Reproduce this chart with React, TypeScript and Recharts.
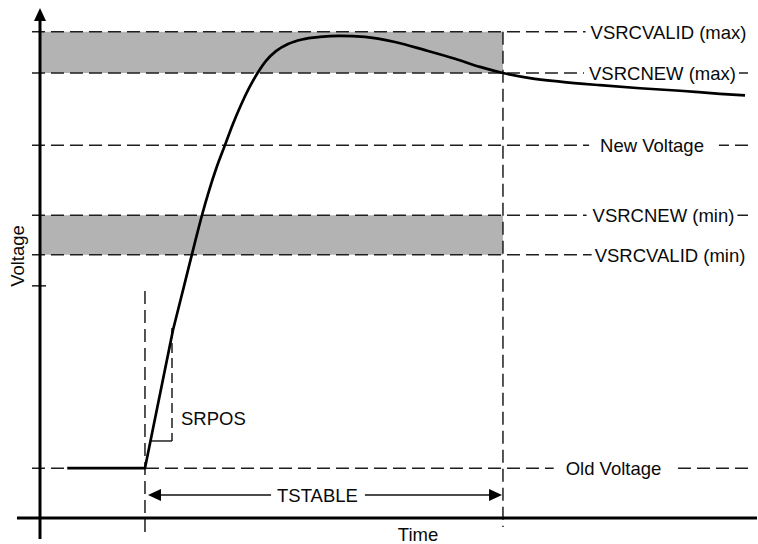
import React, { useLayoutEffect, useRef, useState } from 'react';
import {
  ComposedChart,
  Line,
  XAxis,
  YAxis,
  ReferenceLine,
  ReferenceArea,
  ReferenceDot,
} from 'recharts';

// ---------- data (arbitrary units: time 0..100, voltage 0..100) ----------
const levelNames = [
  'VSRCVALID (max)',
  'VSRCNEW (max)',
  'New Voltage',
  'VSRCNEW (min)',
  'VSRCVALID (min)',
  'Old Voltage',
];
const levelValues = [95.7, 87.6, 73.4, 59.6, 51.8, 9.8];
const extraTickLevel = 45.7;

const tStart = 14.64; // start of the ramp
const tStable = 64.57; // end of TSTABLE window

// initial flat part + slew-rate ramp
const rampTime = [3.8, 14.64, 18.55];
const rampVolt = [9.8, 9.8, 37.0];

// settling curve
const settleTime = [
  18.55, 19.67, 20.64, 21.62, 22.59, 23.57, 24.55, 25.8, 26.92, 28.03, 29.15,
  30.26, 31.52, 32.91, 34.59, 36.54, 39.05, 41.84, 45.33, 49.51, 53.7, 57.88,
  61.37, 64.57, 68.34, 72.52, 78.1, 83.68, 89.26, 94.84, 98.33,
];
const settleVolt = [
  37.0, 43.3, 48.8, 54.3, 59.6, 64.4, 68.7, 73.4, 77.6, 81.3, 84.6, 87.4, 90.0,
  91.9, 93.3, 94.2, 94.7, 94.9, 94.7, 93.7, 92.1, 90.4, 88.8, 87.6, 86.6, 85.9,
  85.2, 84.6, 84.1, 83.5, 83.2,
];

const rampData = rampTime.map((t, i) => ({ t, v: rampVolt[i] }));
const settleData = settleTime.map((t, i) => ({ t, v: settleVolt[i] }));

// ---------- layout (label anchors / extents in chart units) ----------
const layout = {
  lineLeft: -1.12,
  lineRight: 99.3,
  tickRight: 0.84,
  xAxisLeft: -3.21,
  xAxisRight: 100,
  yAxisBottom: -4.13,
  yAxisTop: 100.39,
  startLineTop: 44.69,
  startLineBottom: -2.76,
  stableLineBottom: -1.77,
  labelTimes: [87.66, 86.82, 85.36, 86.96, 87.87, 79.99],
  labelPads: [
    [5, 3],
    [5, 3],
    [11, 15],
    [6, 3],
    [3, 3],
    [12, 12],
  ],
  arrowV: 4.53,
  arrowLeft: 15.06,
  arrowRight: 64.44,
  tstableT: 38.7,
  srTime: 18.41,
  srTop: 37.4,
  srBottom: 15.16,
  srLeft: 15.48,
  srLabelT: 19.67,
  srLabelV: 19.59,
};

const W = 758;
const H = 544;
const FONT = '"Liberation Sans", Arial, Helvetica, sans-serif';
const FS = 18.5;
const DASH = '13 6';
const DASH_COLOR = '#1e1e1e';
const DASH_W = 1.5;
const GRAY = '#b3b3b3';

function BoxedText(props: any) {
  const { cx, cy, text, anchor = 'middle', padL = 4, padR = 4 } = props;
  const ref = useRef<SVGTextElement>(null);
  const [bb, setBb] = useState<{ x: number; w: number } | null>(null);
  useLayoutEffect(() => {
    if (ref.current) {
      const b = ref.current.getBBox();
      if (!bb || Math.abs(b.x - bb.x) > 0.1 || Math.abs(b.width - bb.w) > 0.1) {
        setBb({ x: b.x, w: b.width });
      }
    }
  });
  return (
    <g>
      {bb && (
        <rect
          x={bb.x - padL}
          y={cy - 9}
          width={bb.w + padL + padR}
          height={18}
          fill="#ffffff"
        />
      )}
      <text
        ref={ref}
        x={cx}
        y={cy}
        dy={FS * 0.36}
        textAnchor={anchor}
        fontFamily={FONT}
        fontSize={FS}
        fill="#0a0a0a"
      >
        {text}
      </text>
    </g>
  );
}

const YAxisArrow = (p: any) => {
  const top = Math.min(p.y1, p.y2);
  const bot = Math.max(p.y1, p.y2);
  const x = p.x1;
  return (
    <g>
      <line x1={x} x2={x} y1={bot} y2={top + 10} stroke="#000" strokeWidth={3} />
      <polygon points={`${x},${top} ${x - 6},${top + 13} ${x + 6},${top + 13}`} fill="#000" />
    </g>
  );
};

const PlainAxis = (p: any) => (
  <line x1={p.x1} x2={p.x2} y1={p.y1} y2={p.y2} stroke="#000" strokeWidth={3} />
);

const DoubleArrow = (p: any) => {
  const l = Math.min(p.x1, p.x2);
  const r = Math.max(p.x1, p.x2);
  const y = p.y1;
  return (
    <g>
      <line x1={l + 10} x2={r - 10} y1={y} y2={y} stroke="#111" strokeWidth={1.6} />
      <polygon points={`${l},${y} ${l + 13},${y - 6} ${l + 13},${y + 6}`} fill="#000" />
      <polygon points={`${r},${y} ${r - 13},${y - 6} ${r - 13},${y + 6}`} fill="#000" />
    </g>
  );
};

const TimeLabel = (props: any) => {
  const vb = props.viewBox;
  return (
    <text
      x={vb.x + vb.width / 2 + 19.5}
      y={vb.y + vb.height - 3}
      textAnchor="middle"
      fontFamily={FONT}
      fontSize={FS}
      fill="#0a0a0a"
    >
      Time
    </text>
  );
};

const VoltageLabel = (props: any) => {
  const vb = props.viewBox;
  const x = vb.x + 24;
  const y = vb.y + vb.height / 2 - 8;
  return (
    <text
      transform={`translate(${x},${y}) rotate(-90)`}
      textAnchor="middle"
      fontFamily={FONT}
      fontSize={FS}
      fill="#0a0a0a"
    >
      Voltage
    </text>
  );
};

const dashed = {
  stroke: DASH_COLOR,
  strokeWidth: DASH_W,
  strokeDasharray: DASH,
  ifOverflow: 'visible' as const,
};

export default function App() {
  return (
    <div style={{ position: 'absolute', left: 0, top: 0, width: W, height: H, background: '#fff' }}>
      <ComposedChart width={W} height={H} margin={{ top: 10, right: 1, bottom: 0, left: 0 }}>
        <XAxis
          type="number"
          dataKey="t"
          domain={[0, 100]}
          allowDataOverflow
          tick={false}
          tickLine={false}
          axisLine={false}
          height={26}
          label={TimeLabel}
        />
        <YAxis
          type="number"
          dataKey="v"
          domain={[0, 100]}
          allowDataOverflow
          tick={false}
          tickLine={false}
          axisLine={false}
          width={40}
          label={VoltageLabel}
        />

        {/* tolerance bands */}
        <ReferenceArea
          x1={0}
          x2={tStable}
          y1={levelValues[1]}
          y2={levelValues[0]}
          fill={GRAY}
          fillOpacity={1}
          stroke="none"
          ifOverflow="visible"
        />
        <ReferenceArea
          x1={0}
          x2={tStable}
          y1={levelValues[4]}
          y2={levelValues[3]}
          fill={GRAY}
          fillOpacity={1}
          stroke="none"
          ifOverflow="visible"
        />

        {/* horizontal dashed level lines */}
        {levelValues.map((v, i) => (
          <ReferenceLine
            key={'lvl' + i}
            segment={[
              { x: layout.lineLeft, y: v },
              { x: layout.lineRight, y: v },
            ]}
            {...dashed}
          />
        ))}
        <ReferenceLine
          segment={[
            { x: layout.lineLeft, y: extraTickLevel },
            { x: layout.tickRight, y: extraTickLevel },
          ]}
          stroke={DASH_COLOR}
          strokeWidth={DASH_W}
          ifOverflow="visible"
        />

        {/* vertical dashed markers */}
        <ReferenceLine
          segment={[
            { x: tStart, y: layout.startLineTop },
            { x: tStart, y: layout.startLineBottom },
          ]}
          {...dashed}
        />
        <ReferenceLine
          segment={[
            { x: tStable, y: levelValues[0] },
            { x: tStable, y: layout.stableLineBottom },
          ]}
          {...dashed}
        />

        {/* SRPOS construction */}
        <ReferenceLine
          segment={[
            { x: layout.srTime, y: layout.srTop },
            { x: layout.srTime, y: layout.srBottom },
          ]}
          {...dashed}
          strokeDasharray="10 5"
        />
        <ReferenceLine
          segment={[
            { x: layout.srLeft, y: layout.srBottom },
            { x: layout.srTime, y: layout.srBottom },
          ]}
          stroke="#111"
          strokeWidth={1.4}
          ifOverflow="visible"
        />

        {/* axes */}
        <ReferenceLine
          segment={[
            { x: layout.xAxisLeft, y: 0 },
            { x: layout.xAxisRight, y: 0 },
          ]}
          shape={PlainAxis}
          ifOverflow="visible"
        />
        <ReferenceLine
          segment={[
            { x: 0, y: layout.yAxisBottom },
            { x: 0, y: layout.yAxisTop },
          ]}
          shape={YAxisArrow}
          ifOverflow="visible"
        />

        {/* TSTABLE arrow */}
        <ReferenceLine
          segment={[
            { x: layout.arrowLeft, y: layout.arrowV },
            { x: layout.arrowRight, y: layout.arrowV },
          ]}
          shape={DoubleArrow}
          ifOverflow="visible"
        />

        {/* waveform */}
        <Line
          data={rampData}
          dataKey="v"
          type="linear"
          stroke="#000"
          strokeWidth={2.7}
          dot={false}
          activeDot={false}
          isAnimationActive={false}
        />
        <Line
          data={settleData}
          dataKey="v"
          type="monotone"
          stroke="#000"
          strokeWidth={2.7}
          dot={false}
          activeDot={false}
          isAnimationActive={false}
        />

        {/* labels */}
        {levelNames.map((name, i) => (
          <ReferenceDot
            key={'lab' + i}
            x={layout.labelTimes[i]}
            y={levelValues[i]}
            ifOverflow="visible"
            shape={(p: any) => (
              <BoxedText
                cx={p.cx}
                cy={p.cy}
                text={name}
                padL={layout.labelPads[i][0]}
                padR={layout.labelPads[i][1]}
              />
            )}
          />
        ))}
        <ReferenceDot
          x={layout.tstableT}
          y={layout.arrowV}
          ifOverflow="visible"
          shape={(p: any) => <BoxedText cx={p.cx} cy={p.cy} text="TSTABLE" padL={6} padR={7} />}
        />
        <ReferenceDot
          x={layout.srLabelT}
          y={layout.srLabelV}
          ifOverflow="visible"
          shape={(p: any) => (
            <BoxedText cx={p.cx} cy={p.cy} text="SRPOS" anchor="start" padL={0} padR={0} />
          )}
        />
      </ComposedChart>
    </div>
  );
}
